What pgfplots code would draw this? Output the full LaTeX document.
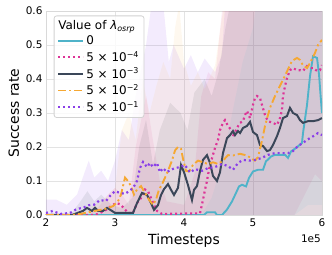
\documentclass[border=0pt]{standalone}
\usepackage{fontspec}
\setmainfont{DejaVu Sans}
\usepackage{pgfplots}
\pgfplotsset{compat=1.18}

\definecolor{ccyan}{HTML}{4FB3C9}
\definecolor{cpink}{HTML}{DD3497}
\definecolor{cdark}{HTML}{3B4759}
\definecolor{corange}{HTML}{F5A833}
\definecolor{cpurple}{HTML}{8A3FE8}

\begin{document}
\begin{tikzpicture}
\begin{axis}[
  scale only axis, width=276bp, height=204bp,
  xmin=2, xmax=6, ymin=0, ymax=0.6,
  xtick={2,3,4,5,6}, ytick={0,0.1,0.2,0.3,0.4,0.5,0.6},
  yticklabel style={/pgf/number format/fixed, /pgf/number format/fixed zerofill, /pgf/number format/precision=1},
  /pgf/number format/assume math mode=true,
  ticklabel style={font=\fontsize{10.5}{12}\selectfont},
  major tick length=0pt,
  grid=major, grid style={gray!22, line width=0.8bp},
  axis line style={gray!30, line width=0.8bp},
  xlabel={Timesteps}, ylabel={Success rate},
  label style={font=\fontsize{14}{16}\selectfont},
  xlabel style={yshift=-1bp},
  legend style={at={(rel axis cs:0.028,0.978)}, anchor=north west, draw=gray!35, rounded corners=2.5bp,
    fill=white, fill opacity=0.8, text opacity=1, font=\fontsize{12}{14}\selectfont, line width=0.8bp,
    row sep=1bp, inner xsep=3bp, inner ysep=2.5bp},
  legend cell align=left,
  legend image code/.code={\draw[#1] (0bp,0bp) -- (25bp,0bp);},
]
% ---- bands ----
\addplot[forget plot, draw=none, fill=cpurple, fill opacity=0.10] coordinates {
(2,0.045) (2.15,0.045) (2.3,0.03) (2.45,0.06) (2.55,0.12) (2.62,0.16) (2.7,0.11) (2.8,0.13) (2.9,0.10) (3.0,0.16) (3.1,0.25) (3.2,0.22) (3.3,0.35) (3.4,0.45) (3.45,0.5) (3.55,0.65) (3.7,0.62) (3.78,0.45) (3.85,0.5) (4.0,0.43) (4.1,0.47) (4.2,0.42) (4.3,0.46) (4.45,0.42) (4.55,0.47) (4.62,0.7) (6,0.7) (6,0) (2,0)};
\addplot[forget plot, draw=none, fill=cpink, fill opacity=0.09] coordinates {
(2.6,0) (2.75,0.02) (2.9,0.06) (3.0,0.08) (3.1,0.06) (3.2,0.03) (3.3,0.2) (3.4,0.3) (3.45,0.35) (3.55,0.22) (3.65,0.1) (3.75,0.04) (4.0,0.03) (4.15,0.12) (4.25,0.35) (4.35,0.42) (4.45,0.4) (4.55,0.6) (4.65,0.7) (6,0.7) (6,0.1) (5.9,0.12) (5.75,0.06) (5.6,0) (2.6,0)};
\addplot[forget plot, draw=none, fill=cdark, fill opacity=0.10] coordinates {
(2.35,0) (2.5,0.04) (2.6,0.07) (2.7,0.04) (2.8,0.06) (2.95,0.03) (3.1,0.02) (3.25,0.05) (3.35,0.2) (3.45,0.28) (3.55,0.15) (3.65,0.25) (3.8,0.33) (3.95,0.3) (4.05,0.25) (4.15,0.36) (4.3,0.4) (4.4,0.35) (4.5,0.42) (4.6,0.55) (4.7,0.65) (6,0.65) (6,0) (2.35,0)};
\addplot[forget plot, draw=none, fill=corange, fill opacity=0.08] coordinates {
(2.35,0) (2.6,0.02) (2.8,0.04) (3.0,0.08) (3.1,0.25) (3.2,0.3) (3.3,0.22) (3.4,0.4) (3.5,0.3) (3.6,0.38) (3.7,0.45) (3.8,0.4) (3.87,0.55) (3.93,0.62) (4.0,0.45) (4.1,0.38) (4.2,0.42) (4.3,0.37) (4.45,0.44) (4.55,0.58) (4.65,0.7) (6,0.7) (6,0) (2.35,0)};
\addplot[forget plot, draw=none, fill=ccyan, fill opacity=0.08] coordinates {
(4.25,0) (4.4,0.05) (4.55,0.15) (4.7,0.3) (4.85,0.45) (5.0,0.55) (5.1,0.7) (6,0.7) (6,0.03) (5.8,0.03) (5.6,0) (4.25,0)};

% ---- title entry ----
\addlegendimage{empty legend}
\addlegendentry{\hspace{-28bp}Value of \textit{λ}\textsubscript{\textit{osrp}}}

% ---- lines ----
\addplot[ccyan, line width=1.9bp] coordinates {
(2,0) (4.29,0) (4.333,0.008) (4.449,0.008) (4.478,0) (4.551,0) (4.623,0.016) (4.696,0.040) (4.754,0.065) (4.797,0.084) (4.841,0.089) (4.899,0.084) (4.942,0.109) (5.0,0.128) (5.072,0.133) (5.145,0.133) (5.188,0.158) (5.217,0.163) (5.261,0.172) (5.319,0.177) (5.464,0.177) (5.507,0.168) (5.551,0.187) (5.623,0.197) (5.71,0.212) (5.725,0.241) (5.783,0.324) (5.826,0.408) (5.87,0.467) (5.928,0.462) (5.957,0.413) (5.98,0.35) (6.0,0.30)};
\addlegendentry{0}

\addplot[cpink, line width=2.2bp, dash pattern=on 2bp off 3bp] coordinates {
(2,0) (2.71,0) (2.783,0.006) (2.87,0.015) (2.942,0.026) (3.014,0.035) (3.072,0.032) (3.13,0.02) (3.188,0.006) (3.261,0.006) (3.319,0.035) (3.377,0.05) (3.435,0.075) (3.478,0.07) (3.522,0.05) (3.565,0.03) (3.609,0.012) (3.681,0.003) (4.232,0.005) (4.275,0.044) (4.304,0.074) (4.333,0.1) (4.348,0.118) (4.377,0.147) (4.449,0.197) (4.493,0.221) (4.522,0.25) (4.565,0.271) (4.594,0.279) (4.638,0.262) (4.696,0.247) (4.71,0.232) (4.768,0.256) (4.812,0.271) (4.855,0.276) (4.884,0.294) (4.913,0.306) (4.957,0.285) (5.0,0.324) (5.029,0.344) (5.058,0.35) (5.101,0.344) (5.13,0.324) (5.174,0.294) (5.217,0.276) (5.29,0.271) (5.348,0.265) (5.391,0.285) (5.42,0.309) (5.435,0.35) (5.464,0.379) (5.493,0.403) (5.536,0.426) (5.58,0.432) (5.638,0.426) (5.681,0.426) (5.725,0.424) (5.783,0.438) (5.826,0.432) (5.87,0.432) (5.928,0.424) (5.971,0.426) (6.0,0.441)};
\addlegendentry{5 × 10\textsuperscript{−4}}

\addplot[cdark, line width=2bp] coordinates {
(2,0) (2.377,0) (2.536,0.012) (2.594,0.021) (2.667,0.012) (2.71,0.021) (2.754,0.012) (2.826,0.012) (2.884,0.021) (2.957,0.012) (3.0,0.006) (3.261,0.006) (3.319,0.035) (3.391,0.065) (3.464,0.059) (3.522,0.035) (3.565,0.015) (3.623,0.029) (3.667,0.059) (3.71,0.076) (3.768,0.091) (3.812,0.074) (3.855,0.059) (3.913,0.080) (3.957,0.147) (4.0,0.126) (4.058,0.088) (4.116,0.044) (4.145,0.074) (4.188,0.085) (4.232,0.129) (4.275,0.162) (4.333,0.176) (4.377,0.153) (4.42,0.115) (4.478,0.100) (4.522,0.126) (4.565,0.182) (4.623,0.226) (4.667,0.235) (4.71,0.247) (4.739,0.235) (4.783,0.247) (4.812,0.241) (4.855,0.256) (4.913,0.262) (4.957,0.274) (5.0,0.244) (5.058,0.235) (5.101,0.206) (5.145,0.203) (5.203,0.188) (5.246,0.191) (5.29,0.206) (5.348,0.232) (5.391,0.256) (5.435,0.285) (5.493,0.291) (5.536,0.315) (5.58,0.300) (5.638,0.294) (5.681,0.279) (5.725,0.271) (5.797,0.276) (5.87,0.276) (5.942,0.279) (6.0,0.285)};
\addlegendentry{5 × 10\textsuperscript{−3}}

\addplot[corange, line width=1.9bp, dash pattern=on 8bp off 3bp on 2bp off 3bp] coordinates {
(2,0) (2.377,0) (2.493,0.003) (2.71,0.012) (2.855,0.018) (2.971,0.026) (3.043,0.04) (3.087,0.06) (3.116,0.085) (3.145,0.11) (3.188,0.10) (3.232,0.085) (3.275,0.06) (3.319,0.075) (3.377,0.085) (3.435,0.065) (3.493,0.045) (3.551,0.03) (3.594,0.045) (3.638,0.075) (3.681,0.09) (3.725,0.11) (3.768,0.13) (3.826,0.16) (3.87,0.19) (3.913,0.20) (3.957,0.195) (3.986,0.165) (4.029,0.13) (4.072,0.128) (4.13,0.147) (4.203,0.16) (4.275,0.155) (4.348,0.15) (4.42,0.155) (4.493,0.15) (4.565,0.16) (4.638,0.176) (4.71,0.175) (4.812,0.18) (4.913,0.175) (4.986,0.165) (5.029,0.16) (5.072,0.17) (5.13,0.218) (5.174,0.262) (5.246,0.315) (5.319,0.35) (5.391,0.38) (5.464,0.41) (5.565,0.453) (5.638,0.462) (5.681,0.456) (5.725,0.44) (5.783,0.432) (5.826,0.447) (5.899,0.477) (5.942,0.5) (6.0,0.515)};
\addlegendentry{5 × 10\textsuperscript{−2}}

\addplot[cpurple, line width=2.2bp, dash pattern=on 2bp off 3bp] coordinates {
(2,0.006) (2.101,0.012) (2.203,0.003) (2.348,0.006) (2.449,0.018) (2.536,0.021) (2.623,0.029) (2.696,0.03) (2.783,0.044) (2.87,0.041) (2.928,0.056) (3.0,0.07) (3.072,0.065) (3.145,0.062) (3.203,0.07) (3.261,0.079) (3.319,0.1) (3.362,0.138) (3.406,0.156) (3.464,0.141) (3.507,0.153) (3.551,0.141) (3.609,0.153) (3.652,0.126) (3.696,0.138) (3.754,0.126) (3.797,0.132) (3.87,0.138) (3.942,0.141) (4.014,0.147) (4.087,0.125) (4.159,0.135) (4.261,0.13) (4.348,0.138) (4.449,0.141) (4.551,0.15) (4.638,0.144) (4.71,0.133) (4.783,0.153) (4.855,0.162) (4.942,0.16) (5.029,0.162) (5.13,0.168) (5.217,0.177) (5.319,0.182) (5.42,0.182) (5.507,0.182) (5.58,0.188) (5.652,0.203) (5.725,0.212) (5.783,0.221) (5.826,0.226) (5.899,0.235) (5.942,0.241) (6.0,0.235)};
\addlegendentry{5 × 10\textsuperscript{−1}}

\coordinate (ll) at (rel axis cs:0,0);
\coordinate (br) at (rel axis cs:1,0);
\end{axis}
\node[anchor=east, font=\fontsize{10.5}{12}\selectfont, inner sep=0pt] at ([yshift=-24bp, xshift=-1bp]br) {1e5};
\pgfresetboundingbox
\path[use as bounding box] (ll) ++(-46bp,-40bp) rectangle ++(332bp,255bp);
\end{tikzpicture}
\end{document}
